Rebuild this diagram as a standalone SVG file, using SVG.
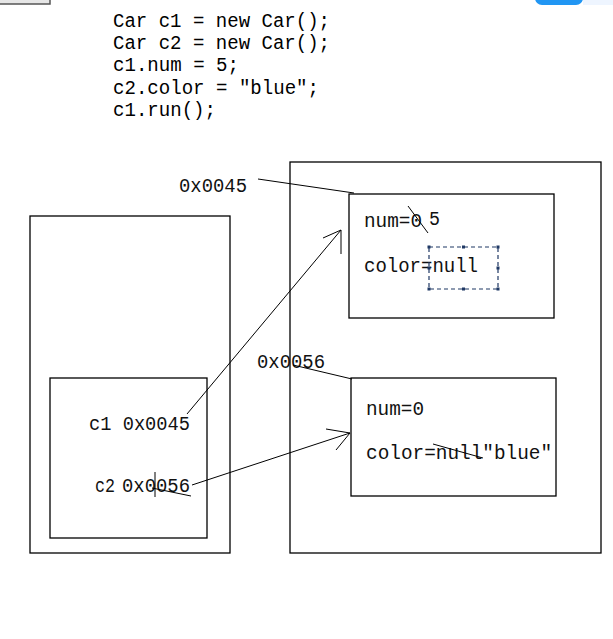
<svg xmlns="http://www.w3.org/2000/svg" width="613" height="639" viewBox="0 0 613 639">
<defs>
<style>
.box{fill:none;stroke:#000;stroke-width:1.3}
.code{font-family:"Liberation Mono",monospace;font-size:20px;fill:#000}
.lbl{font-family:"Liberation Mono",monospace;font-size:20px;fill:#111}
.ln{fill:none;stroke:#000;stroke-width:1}
.dash{fill:none;stroke:#1f3864;stroke-width:1.2;stroke-dasharray:4 3}
.h{fill:#1f3864}
</style>
</defs>
<rect width="613" height="639" fill="#fff"/>
<g id="chrome">
<rect x="-2" y="-2" width="52" height="6" fill="#e6e6e6" stroke="#555" stroke-width="1.5"/>
<rect x="535" y="-10" width="48" height="15" rx="7" fill="#2196f3"/>
<rect x="583" y="0" width="30" height="5" fill="#eef5ff"/>
</g>
<g id="code">
<text class="code" x="113" y="27" textLength="217" lengthAdjust="spacingAndGlyphs">Car c1 = new Car();</text>
<text class="code" x="113" y="49" textLength="217" lengthAdjust="spacingAndGlyphs">Car c2 = new Car();</text>
<text class="code" x="113" y="71" textLength="126" lengthAdjust="spacingAndGlyphs">c1.num = 5;</text>
<text class="code" x="113" y="94" textLength="206" lengthAdjust="spacingAndGlyphs">c2.color = ″blue″;</text>
<text class="code" x="113" y="116" textLength="103" lengthAdjust="spacingAndGlyphs">c1.run();</text>
</g>
<g id="stack">
<rect class="box" x="30" y="216" width="200" height="337"/>
</g>
<g id="stackframe">
<rect class="box" x="50" y="378" width="157" height="160"/>
<text class="lbl" x="89" y="430" textLength="101" lengthAdjust="spacingAndGlyphs">c1 0x0045</text>
<text class="lbl" x="95" y="492" textLength="20" lengthAdjust="spacingAndGlyphs">c2</text>
<text class="lbl" x="122" y="492" textLength="68" lengthAdjust="spacingAndGlyphs">0x0056</text>
<line class="ln" x1="155" y1="472" x2="155" y2="497" stroke-width="1.5"/>
<line class="ln" x1="152" y1="488" x2="191" y2="496"/>
</g>
<g id="heap">
<rect class="box" x="290" y="162" width="311" height="391"/>
</g>
<g id="obj1">
<rect class="box" x="349" y="194" width="205" height="124"/>
<text class="lbl" x="364" y="227" textLength="58" lengthAdjust="spacingAndGlyphs">num=0</text>
<text class="lbl" x="429" y="225" textLength="11" lengthAdjust="spacingAndGlyphs">5</text>
<line class="ln" x1="408" y1="206" x2="428" y2="233"/>
<text class="lbl" x="364" y="272" textLength="114" lengthAdjust="spacingAndGlyphs">color=null</text>
<rect class="dash" x="429" y="247" width="69" height="42"/>
<rect class="h" x="427.5" y="245.5" width="3" height="3"/>
<rect class="h" x="462" y="245.5" width="3" height="3"/>
<rect class="h" x="496.5" y="245.5" width="3" height="3"/>
<rect class="h" x="427.5" y="266.5" width="3" height="3"/>
<rect class="h" x="496.5" y="266.5" width="3" height="3"/>
<rect class="h" x="427.5" y="287.5" width="3" height="3"/>
<rect class="h" x="462" y="287.5" width="3" height="3"/>
<rect class="h" x="496.5" y="287.5" width="3" height="3"/>
</g>
<g id="obj2">
<rect class="box" x="351" y="378" width="205" height="118"/>
<text class="lbl" x="366" y="415" textLength="58" lengthAdjust="spacingAndGlyphs">num=0</text>
<text class="lbl" x="366" y="459" textLength="186" lengthAdjust="spacingAndGlyphs">color=null″blue″</text>
<line class="ln" x1="433" y1="444" x2="483" y2="458"/>
</g>
<g id="addr">
<text class="lbl" x="179" y="192" textLength="68" lengthAdjust="spacingAndGlyphs">0x0045</text>
<text class="lbl" x="257" y="368" textLength="68" lengthAdjust="spacingAndGlyphs">0x0056</text>
</g>
<g id="connectors">
<line class="ln" x1="258" y1="179" x2="354" y2="193"/>
<line class="ln" x1="293" y1="365" x2="352" y2="379"/>
<path class="ln" d="M187,414 L341,230 M323,238 L341,230 L341,254"/>
<path class="ln" d="M192,485 L350,433 M326,429 L350,433 L336,450"/>
</g>
</svg>
